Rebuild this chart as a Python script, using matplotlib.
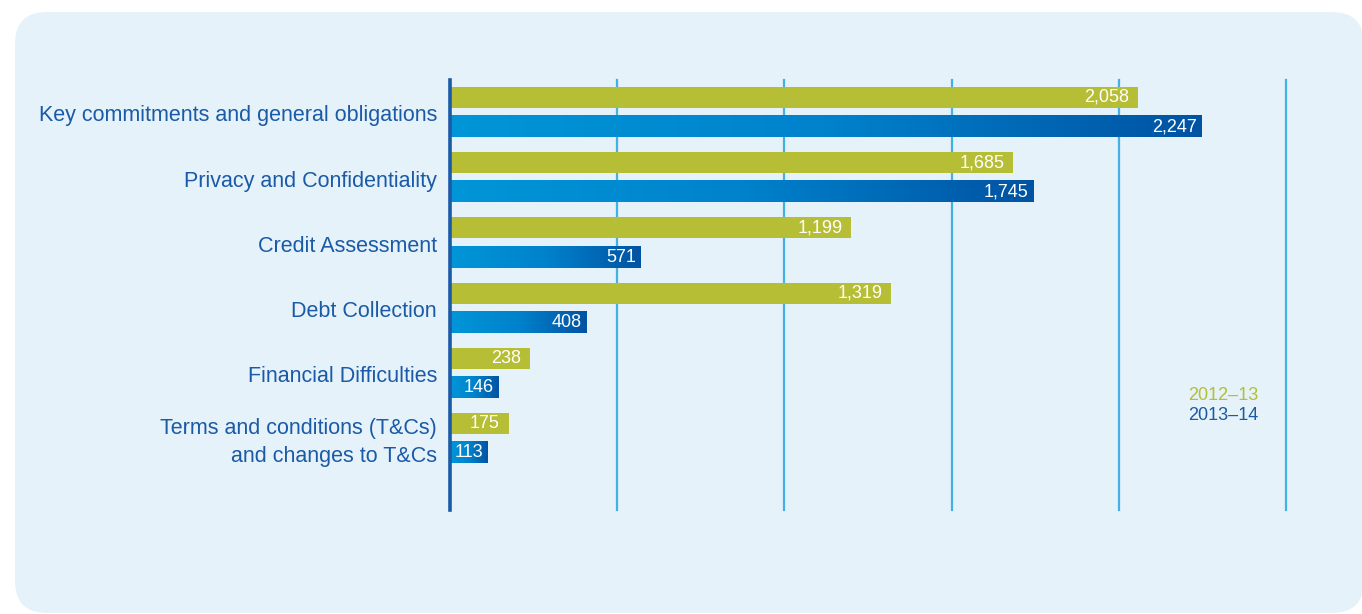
import numpy as np
import matplotlib
matplotlib.use('Agg')
import matplotlib.pyplot as plt
from matplotlib.patches import FancyBboxPatch
from matplotlib.colors import LinearSegmentedColormap

categories = [
    "Key commitments and general obligations",
    "Privacy and Confidentiality",
    "Credit Assessment",
    "Debt Collection",
    "Financial Difficulties",
    "Terms and conditions (T&Cs)\nand changes to T&Cs",
]
values_2012_13 = [2058, 1685, 1199, 1319, 238, 175]
values_2013_14 = [2247, 1745, 571, 408, 146, 113]
series_names = ["2012\u201313", "2013\u201314"]
grid_ticks = [0, 500, 1000, 1500, 2000, 2500]

GREEN = '#b5be34'
BLUE_LIGHT = '#0096d8'
BLUE_DARK = '#0053a3'
TEXT_BLUE = '#1a5aa6'
GRID_BLUE = '#45b0e4'
PANEL = '#e5f2f9'

plt.rcParams['font.family'] = ['Liberation Sans', 'DejaVu Sans']

W, H = 1362, 614
fig = plt.figure(figsize=(W / 100, H / 100), dpi=100)
fig.patch.set_facecolor('white')

# background panel, drawn in pixel coordinates
bg = fig.add_axes([0, 0, 1, 1])
bg.set_xlim(0, W)
bg.set_ylim(0, H)
bg.axis('off')
bg.add_patch(FancyBboxPatch((15, 1), W - 15 + 2, 601,
                            boxstyle='round,pad=0,rounding_size=32',
                            fc=PANEL, ec='none'))

left, right = 450 / W, 1286 / W
bottom, top = (H - 510) / H, (H - 80) / H
ax = fig.add_axes([left, bottom, right - left, top - bottom])
ax.set_facecolor('none')
for s in ax.spines.values():
    s.set_visible(False)
ax.set_xticks([])
ax.set_yticks([])

for t in grid_ticks[1:]:
    ax.axvline(t, color=GRID_BLUE, lw=1.6, zorder=1, clip_on=False)
ax.axvline(0, color=TEXT_BLUE, lw=2.6, zorder=4, clip_on=False)

blue_cmap = LinearSegmentedColormap.from_list('blues', [BLUE_LIGHT, '#0082cc', BLUE_DARK])
grad = np.linspace(0, 1, 256).reshape(1, -1)

h = 0.322
off = 0.224
y = np.arange(len(categories))
ax.barh(y - off, values_2012_13, height=h, color=GREEN, zorder=3)
for yi, v in zip(y, values_2013_14):
    ax.imshow(grad, cmap=blue_cmap, aspect='auto', interpolation='bilinear',
              extent=(0, v, yi + off + h / 2, yi + off - h / 2), zorder=3)
ax.set_xlim(0, 2500)
ax.set_ylim(6.10, -0.49)

# value labels inside the bar ends
for yi, v in zip(y, values_2012_13):
    ax.text(v - 26, yi - off, f"{v:,}", color='white', fontsize=13,
            ha='right', va='center', zorder=5)
for yi, v in zip(y, values_2013_14):
    ax.text(v - 14, yi + off, f"{v:,}", color='white', fontsize=13,
            ha='right', va='center', zorder=5)

for yi, lab in zip(y, categories):
    ax.text(-39, yi + 0.06, lab, color=TEXT_BLUE, fontsize=15.5,
            ha='right', va='center', linespacing=1.45, zorder=5)

# legend as coloured text
bg.text(1188, H - 395, series_names[0], color=GREEN, fontsize=13, ha='left', va='center')
bg.text(1188, H - 416, series_names[1], color=TEXT_BLUE, fontsize=13, ha='left', va='center')

fig.savefig('out.png', dpi=100)
